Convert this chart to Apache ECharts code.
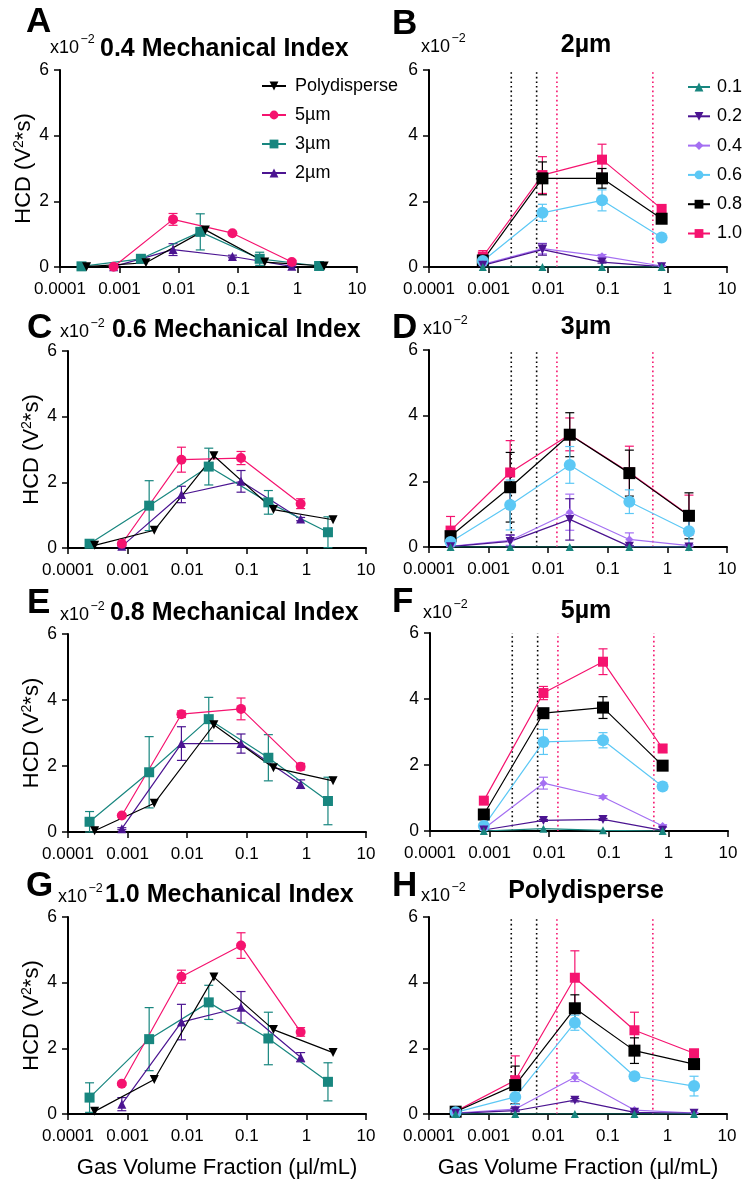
<!DOCTYPE html>
<html>
<head>
<meta charset="utf-8">
<script src="https://cdn.jsdelivr.net/npm/echarts@6/dist/echarts.min.js"></script>
<style>
  html, body { margin: 0; padding: 0; background: #fff; }
  #chart { width: 752px; height: 1182px; }
</style>
</head>
<body>
<div id="chart"></div>
<script>
// ================= DATA =================
const xTickLabels = ['0.0001', '0.001', '0.01', '0.1', '1', '10'];
const yTickLabels = ['0', '2', '4', '6'];

const sizeNames = ['Polydisperse', '5µm', '3µm', '2µm'];
const miNames = ['0.1', '0.2', '0.4', '0.6', '0.8', '1.0'];

// Gas volume fraction (µl/mL) for each microbubble population
const gvfPoly = [0.00028, 0.0028, 0.028, 0.28, 2.8];
const gvf5 = [0.0008, 0.008, 0.08, 0.8];
const gvf3 = [0.00023, 0.0023, 0.023, 0.23, 2.3];
const gvf2 = [0.0008, 0.008, 0.08, 0.8];

// dotted threshold lines (right-hand panels)
const blackThresholds = [0.0024, 0.0064];
const pinkThresholds = [0.014, 0.57];

// ---- A: 0.4 Mechanical Index (HCD x10^-2) ----
const mi04_poly = [0.01, 0.13, 1.13, 0.15, 0.03];
const mi04_poly_sd = [0, 0, 0, 0, 0];
const mi04_5 = [0.01, 1.45, 1.03, 0.15];
const mi04_5_sd = [0, 0.18, 0.05, 0.05];
const mi04_3 = [0.02, 0.25, 1.07, 0.25, 0.03];
const mi04_3_sd = [0.02, 0.1, 0.55, 0.2, 0.02];
const mi04_2 = [0.01, 0.53, 0.32, 0.02];
const mi04_2_sd = [0.01, 0.18, 0.04, 0.01];

// ---- C: 0.6 Mechanical Index ----
const mi06_poly = [0.08, 0.54, 2.81, 1.17, 0.86];
const mi06_poly_sd = [0, 0, 0, 0, 0];
const mi06_5 = [0.13, 2.69, 2.74, 1.35];
const mi06_5_sd = [0.03, 0.38, 0.2, 0.15];
const mi06_3 = [0.13, 1.29, 2.48, 1.39, 0.48];
const mi06_3_sd = [0.05, 0.76, 0.56, 0.36, 0.47];
const mi06_2 = [0.05, 1.63, 2.03, 0.88];
const mi06_2_sd = [0.02, 0.25, 0.33, 0.05];

// ---- E: 0.8 Mechanical Index ----
const mi08_poly = [0.04, 0.87, 3.25, 1.95, 1.55];
const mi08_poly_sd = [0, 0, 0, 0, 0];
const mi08_5 = [0.5, 3.57, 3.73, 1.98];
const mi08_5_sd = [0.03, 0.1, 0.33, 0.1];
const mi08_3 = [0.31, 1.81, 3.42, 2.25, 0.94];
const mi08_3_sd = [0.31, 1.08, 0.66, 0.7, 0.72];
const mi08_2 = [0.1, 2.68, 2.68, 1.45];
const mi08_2_sd = [0.03, 0.51, 0.29, 0.13];

// ---- G: 1.0 Mechanical Index ----
const mi10_poly = [0.08, 1.05, 4.17, 2.57, 1.87];
const mi10_poly_sd = [0, 0, 0, 0, 0];
const mi10_5 = [0.92, 4.18, 5.13, 2.5];
const mi10_5_sd = [0.04, 0.2, 0.39, 0.13];
const mi10_3 = [0.5, 2.28, 3.4, 2.3, 0.98];
const mi10_3_sd = [0.45, 0.96, 0.52, 0.8, 0.58];
const mi10_2 = [0.3, 2.8, 3.25, 1.73];
const mi10_2_sd = [0.2, 0.54, 0.48, 0.14];

// ---- B: 2µm, per MI ----
const um2_01 = [0, 0, 0, 0];
const um2_01_sd = [0, 0, 0, 0];
const um2_02 = [0.05, 0.53, 0.15, 0.01];
const um2_02_sd = [0.03, 0.17, 0.03, 0];
const um2_04 = [0.08, 0.56, 0.33, 0.03];
const um2_04_sd = [0.03, 0.16, 0.05, 0.01];
const um2_06 = [0.18, 1.65, 2.03, 0.9];
const um2_06_sd = [0.08, 0.26, 0.32, 0.05];
const um2_08 = [0.2, 2.7, 2.7, 1.47];
const um2_08_sd = [0.08, 0.5, 0.3, 0.05];
const um2_10 = [0.32, 2.8, 3.27, 1.77];
const um2_10_sd = [0.18, 0.56, 0.47, 0.06];

// ---- D: 3µm ----
const um3_01 = [0, 0, 0, 0, 0];
const um3_01_sd = [0, 0, 0, 0, 0];
const um3_02 = [0.01, 0.17, 0.84, 0.02, 0];
const um3_02_sd = [0, 0.2, 0.63, 0.02, 0];
const um3_04 = [0.02, 0.2, 1.06, 0.23, 0.04];
const um3_04_sd = [0.01, 0.15, 0.55, 0.2, 0.03];
const um3_06 = [0.15, 1.28, 2.5, 1.38, 0.48];
const um3_06_sd = [0.05, 0.76, 0.56, 0.36, 0.42];
const um3_08 = [0.33, 1.82, 3.42, 2.25, 0.95];
const um3_08_sd = [0.1, 1.06, 0.67, 0.7, 0.7];
const um3_10 = [0.5, 2.27, 3.43, 2.27, 0.97];
const um3_10_sd = [0.43, 0.97, 0.5, 0.8, 0.61];

// ---- F: 5µm ----
const um5_01 = [0, 0.07, 0.02, 0];
const um5_01_sd = [0, 0, 0, 0];
const um5_02 = [0.03, 0.32, 0.35, 0.02];
const um5_02_sd = [0, 0.03, 0.03, 0];
const um5_04 = [0.07, 1.45, 1.03, 0.15];
const um5_04_sd = [0.02, 0.18, 0.04, 0.04];
const um5_06 = [0.15, 2.7, 2.75, 1.35];
const um5_06_sd = [0.03, 0.38, 0.23, 0.12];
const um5_08 = [0.5, 3.57, 3.74, 1.98];
const um5_08_sd = [0.03, 0.08, 0.33, 0.05];
const um5_10 = [0.92, 4.18, 5.13, 2.5];
const um5_10_sd = [0.04, 0.2, 0.39, 0.12];

// ---- H: Polydisperse ----
const poly_01 = [0, 0, 0, 0, 0];
const poly_01_sd = [0, 0, 0, 0, 0];
const poly_02 = [0.02, 0.1, 0.42, 0.05, 0.02];
const poly_02_sd = [0, 0.03, 0.05, 0.02, 0];
const poly_04 = [0.03, 0.15, 1.12, 0.12, 0.03];
const poly_04_sd = [0.01, 0.05, 0.13, 0.03, 0.01];
const poly_06 = [0.05, 0.52, 2.78, 1.15, 0.85];
const poly_06_sd = [0.02, 0.23, 0.23, 0.1, 0.3];
const poly_08 = [0.07, 0.88, 3.22, 1.93, 1.52];
const poly_08_sd = [0.02, 0.58, 0.41, 0.39, 0.05];
const poly_10 = [0.08, 1.03, 4.15, 2.55, 1.85];
const poly_10_sd = [0.02, 0.74, 0.82, 0.55, 0.05];

// ================= LAYOUT / STYLE =================
const FONT = "'Liberation Sans', Arial, Helvetica, sans-serif";
const PINK = '#f5136f', TEAL = '#18867f', INDIGO = '#4b1491', LAV = '#a46ff2', SKY = '#5cc8f5', BLACK = '#000000';

const styles = {
  'Polydisperse': { color: BLACK, symbol: 'triangle', rotate: 180, size: 9 },
  '5µm': { color: PINK, symbol: 'circle', size: 10 },
  '3µm': { color: TEAL, symbol: 'rect', size: 10 },
  '2µm': { color: INDIGO, symbol: 'triangle', size: 9 },
  '0.1': { color: TEAL, symbol: 'triangle', size: 8 },
  '0.2': { color: INDIGO, symbol: 'triangle', rotate: 180, size: 9 },
  '0.4': { color: LAV, symbol: 'diamond', size: 8 },
  '0.6': { color: SKY, symbol: 'circle', size: 12 },
  '0.8': { color: BLACK, symbol: 'rect', size: 12 },
  '1.0': { color: PINK, symbol: 'rect', size: 10 }
};

const grids = [
  { left: 60, top: 70, width: 297, height: 197 },   // A
  { left: 429, top: 70, width: 298, height: 197 },  // B
  { left: 68, top: 351, width: 298, height: 197 },  // C
  { left: 429, top: 350, width: 298, height: 197 }, // D
  { left: 68, top: 634, width: 298, height: 198 },  // E
  { left: 430, top: 633, width: 298, height: 198 }, // F
  { left: 68, top: 917, width: 298, height: 197 },  // G
  { left: 429, top: 917, width: 298, height: 197 }  // H
];

// panel contents: [name, x, y, sd]
const panels = [
  [['Polydisperse', gvfPoly, mi04_poly, mi04_poly_sd], ['5µm', gvf5, mi04_5, mi04_5_sd], ['3µm', gvf3, mi04_3, mi04_3_sd], ['2µm', gvf2, mi04_2, mi04_2_sd]],
  [['0.1', gvf2, um2_01, um2_01_sd], ['0.2', gvf2, um2_02, um2_02_sd], ['0.4', gvf2, um2_04, um2_04_sd], ['0.6', gvf2, um2_06, um2_06_sd], ['0.8', gvf2, um2_08, um2_08_sd], ['1.0', gvf2, um2_10, um2_10_sd]],
  [['Polydisperse', gvfPoly, mi06_poly, mi06_poly_sd], ['5µm', gvf5, mi06_5, mi06_5_sd], ['3µm', gvf3, mi06_3, mi06_3_sd], ['2µm', gvf2, mi06_2, mi06_2_sd]],
  [['0.1', gvf3, um3_01, um3_01_sd], ['0.2', gvf3, um3_02, um3_02_sd], ['0.4', gvf3, um3_04, um3_04_sd], ['0.6', gvf3, um3_06, um3_06_sd], ['0.8', gvf3, um3_08, um3_08_sd], ['1.0', gvf3, um3_10, um3_10_sd]],
  [['Polydisperse', gvfPoly, mi08_poly, mi08_poly_sd], ['5µm', gvf5, mi08_5, mi08_5_sd], ['3µm', gvf3, mi08_3, mi08_3_sd], ['2µm', gvf2, mi08_2, mi08_2_sd]],
  [['0.1', gvf5, um5_01, um5_01_sd], ['0.2', gvf5, um5_02, um5_02_sd], ['0.4', gvf5, um5_04, um5_04_sd], ['0.6', gvf5, um5_06, um5_06_sd], ['0.8', gvf5, um5_08, um5_08_sd], ['1.0', gvf5, um5_10, um5_10_sd]],
  [['Polydisperse', gvfPoly, mi10_poly, mi10_poly_sd], ['5µm', gvf5, mi10_5, mi10_5_sd], ['3µm', gvf3, mi10_3, mi10_3_sd], ['2µm', gvf2, mi10_2, mi10_2_sd]],
  [['0.1', gvfPoly, poly_01, poly_01_sd], ['0.2', gvfPoly, poly_02, poly_02_sd], ['0.4', gvfPoly, poly_04, poly_04_sd], ['0.6', gvfPoly, poly_06, poly_06_sd], ['0.8', gvfPoly, poly_08, poly_08_sd], ['1.0', gvfPoly, poly_10, poly_10_sd]]
];

const isLeft = [true, false, true, false, true, false, true, false];

const xAxes = grids.map((g, i) => ({
  type: 'log', logBase: 10, gridIndex: i, min: 0.0001, max: 10,
  axisLine: { show: true, lineStyle: { color: '#000', width: 2 } },
  axisTick: { show: true, length: 6, lineStyle: { color: '#000', width: 1.5 } },
  minorTick: { show: false }, splitLine: { show: false },
  axisLabel: {
    color: '#000', fontSize: 17, fontFamily: FONT, margin: 14,
    formatter: v => xTickLabels[Math.round(Math.log10(v)) + 4]
  },
  name: i >= 6 ? 'Gas Volume Fraction (µl/mL)' : '',
  nameLocation: 'middle', nameGap: 43,
  nameTextStyle: { color: '#000', fontSize: 22, fontFamily: FONT }
}));

const yAxes = grids.map((g, i) => ({
  type: 'value', gridIndex: i, min: 0, max: 6, interval: 2,
  axisLine: { show: true, lineStyle: { color: '#000', width: 2 } },
  axisTick: { show: true, length: 6, lineStyle: { color: '#000', width: 1.5 } },
  splitLine: { show: false },
  axisLabel: {
    color: '#000', fontSize: 17.5, fontFamily: FONT, margin: 11,
    formatter: v => yTickLabels[Math.round(v / 2)]
  },
  name: isLeft[i] ? '{a|HCD (V}{s|2}{a|*s)}' : '',
  nameLocation: 'middle', nameRotate: 90, nameGap: 25,
  nameTextStyle: {
    color: '#000', fontFamily: FONT,
    rich: {
      a: { fontSize: 22, fontFamily: FONT, color: '#000' },
      s: { fontSize: 14, fontFamily: FONT, color: '#000', padding: [0, 0, 9, 0] }
    }
  }
}));

function errRender(params, api) {
  const x = api.value(0), y = api.value(1), e = api.value(2);
  if (!e) return null;
  const top = api.coord([x, y + e]);
  const bot = api.coord([x, Math.max(0, y - e)]);
  const c = api.visual('color');
  const hw = 4.5;
  const st = { stroke: c, lineWidth: 1.2 };
  return {
    type: 'group',
    children: [
      { type: 'line', shape: { x1: top[0], y1: top[1], x2: bot[0], y2: bot[1] }, style: st },
      { type: 'line', shape: { x1: top[0] - hw, y1: top[1], x2: top[0] + hw, y2: top[1] }, style: st },
      { type: 'line', shape: { x1: bot[0] - hw, y1: bot[1], x2: bot[0] + hw, y2: bot[1] }, style: st }
    ]
  };
}

function vlineRender(params, api) {
  const x = api.value(0);
  const p0 = api.coord([x, 0]);
  const p1 = api.coord([x, 6]);
  return {
    type: 'line',
    shape: { x1: p0[0], y1: p0[1], x2: p1[0], y2: p1[1] },
    style: { stroke: api.visual('color'), lineWidth: 1.6, lineDash: [1.6, 3] }
  };
}

const series = [];
panels.forEach((list, gi) => {
  if (!isLeft[gi]) {
    [[blackThresholds, '#000000'], [pinkThresholds, PINK]].forEach(([arr, col]) => {
      series.push({
        type: 'custom', name: 'threshold', xAxisIndex: gi, yAxisIndex: gi, z: 1,
        silent: true, renderItem: vlineRender, itemStyle: { color: col },
        data: arr.map(v => [v])
      });
    });
  }
  // draw in reverse order so the first-listed group sits on top
  list.slice().reverse().forEach(([name, xs, ys, sds]) => {
    const s = styles[name];
    series.push({
      type: 'custom', name: name + ' SD', xAxisIndex: gi, yAxisIndex: gi,
      renderItem: errRender, z: 2, silent: true,
      itemStyle: { color: s.color },
      data: xs.map((x, k) => [x, ys[k], sds[k]])
    });
    series.push({
      type: 'line', name: name, xAxisIndex: gi, yAxisIndex: gi, z: 3,
      data: xs.map((x, k) => [x, ys[k]]),
      symbol: s.symbol, symbolSize: s.size, symbolRotate: s.rotate || 0,
      showAllSymbol: true, animation: false,
      itemStyle: { color: s.color },
      lineStyle: { color: s.color, width: 1.2 },
      emphasis: { disabled: true }
    });
  });
});

// ---- text decorations ----
const letters = [
  ['A', 26, 22], ['B', 392, 24], ['C', 27, 328], ['D', 392, 328],
  ['E', 27, 603], ['F', 392, 602], ['G', 26, 886], ['H', 392, 886]
];
const titles = [
  ['0.4 Mechanical Index', 100, 49, 'left'], ['2µm', 586, 45, 'center'],
  ['0.6 Mechanical Index', 112, 330, 'left'], ['3µm', 586, 327, 'center'],
  ['0.8 Mechanical Index', 110, 613, 'left'], ['5µm', 586, 611, 'center'],
  ['1.0 Mechanical Index', 105, 895, 'left'], ['Polydisperse', 586, 891, 'center']
];
const exps = [
  [50, 48], [421, 47], [60, 332], [423, 329], [60, 615], [423, 613], [58, 897], [421, 896]
];

const graphic = [];
letters.forEach(([t, x, y]) => graphic.push({
  type: 'text', x: x, y: y, silent: true,
  style: { text: t, fontSize: 35, fontWeight: 'bold', fontFamily: FONT, fill: '#000', textAlign: 'left', textVerticalAlign: 'middle' }
}));
titles.forEach(([t, x, y, a]) => graphic.push({
  type: 'text', x: x, y: y, silent: true,
  style: { text: t, fontSize: 25, fontWeight: 'bold', fontFamily: FONT, fill: '#000', textAlign: a, textVerticalAlign: 'middle' }
}));
exps.forEach(([x, y]) => {
  graphic.push({
    type: 'text', x: x, y: y, silent: true,
    style: { text: 'x10', fontSize: 18, fontFamily: FONT, fill: '#000', textAlign: 'left', textVerticalAlign: 'middle' }
  });
  graphic.push({
    type: 'text', x: x + 30.5, y: y - 8, silent: true,
    style: { text: '−2', fontSize: 12.5, fontFamily: FONT, fill: '#000', textAlign: 'left', textVerticalAlign: 'middle' }
  });
});

const option = {
  backgroundColor: '#fff',
  animation: false,
  textStyle: { fontFamily: FONT },
  grid: grids.map(g => Object.assign({ containLabel: false }, g)),
  xAxis: xAxes,
  yAxis: yAxes,
  legend: [
    {
      data: sizeNames, orient: 'vertical', left: 256, top: 72,
      itemWidth: 24, itemHeight: 11, itemGap: 11, selectedMode: false,
      textStyle: { fontSize: 18, fontFamily: FONT, color: '#000', padding: [0, 0, 0, 4] }
    },
    {
      data: miNames, orient: 'vertical', left: 682, top: 73,
      itemWidth: 22, itemHeight: 11, itemGap: 11.3, selectedMode: false,
      textStyle: { fontSize: 18, fontFamily: FONT, color: '#000', padding: [0, 0, 0, 2] }
    }
  ],
  graphic: graphic,
  series: series
};

const chart = echarts.init(document.getElementById('chart'), null, { renderer: 'canvas' });
chart.setOption(option);
</script>
</body>
</html>
